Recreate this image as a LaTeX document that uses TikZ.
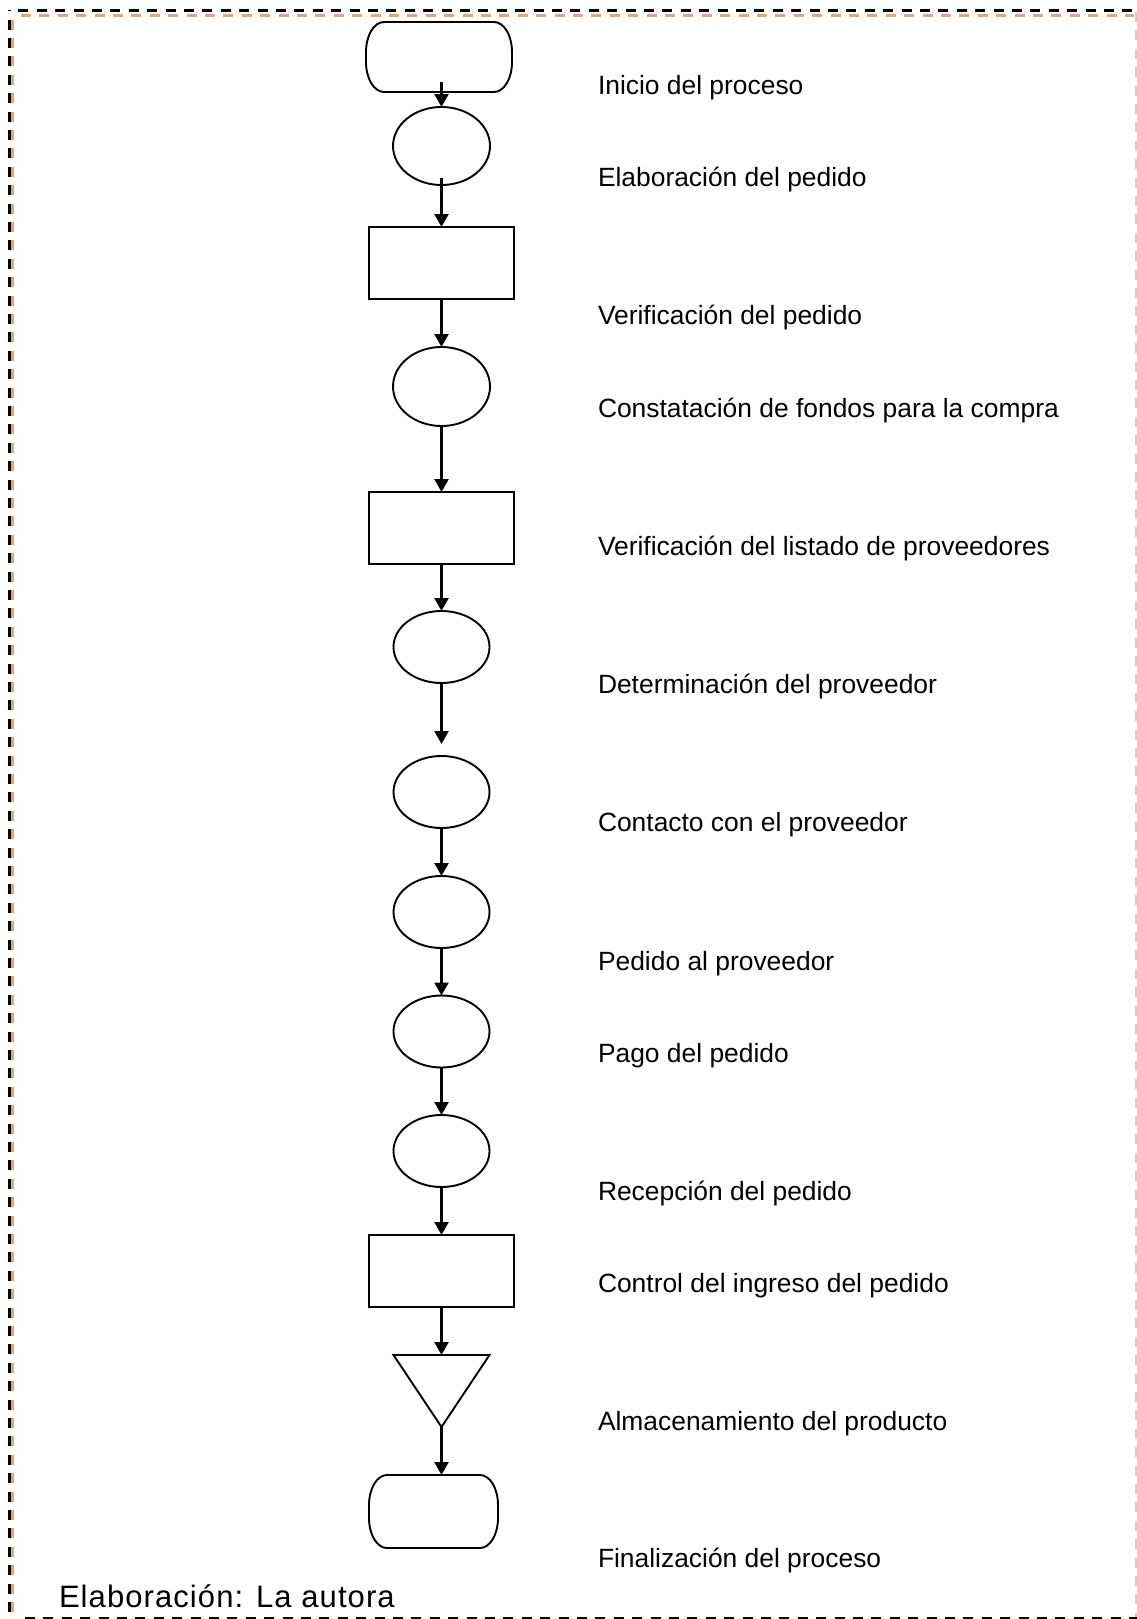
\documentclass[tikz,border=0pt]{standalone}
\usepackage{fontspec}
\setmainfont{Liberation Sans}
\usetikzlibrary{shapes.geometric,arrows.meta,calc}
\definecolor{tanline}{RGB}{214,170,136}
\definecolor{edgegrey}{RGB}{205,205,205}
\begin{document}
\begin{tikzpicture}[x=1pt,y=-1pt,
  every node/.style={inner sep=0pt,outer sep=0pt},
  shp/.style={draw=black,line width=1.9pt,fill=white},
  boxshape/.style={shp,rectangle,minimum width=145pt,minimum height=72pt},
  ovalshape/.style={shp,ellipse,minimum width=96pt,minimum height=72pt},
  termbox/.style={rectangle,minimum width=146pt,minimum height=70pt},
  arr/.style={draw=black,line width=2.2pt,-{Triangle[length=13pt,width=14pt]}},
  lbl/.style={anchor=base west,font=\fontsize{26.4}{30}\selectfont},
  blackdash/.style={draw=black,line width=2.6pt,dash pattern=on 10pt off 8.4pt},
  tandash/.style={draw=tanline,line width=2.6pt,dash pattern=on 10pt off 8.4pt}]
\useasboundingbox (0,0) rectangle (1137,1619);
% frame
\draw[tandash] (12.3,1612) -- (12.3,15.7);
\draw[tandash] (21,15.7) -- (1134,15.7);
\draw[blackdash] (9.3,1612) -- (9.3,10);
\draw[blackdash] (18.3,10.7) -- (1134,10.7);
\draw[blackdash] (25,1617.8) -- (1137,1617.8);
\draw[draw=edgegrey,line width=1.6pt,dash pattern=on 10pt off 8.4pt] (1136.2,12) -- (1136.2,1617);
% terminators
\node[termbox] (t1) at (439,57) {};
\node[termbox,minimum width=129pt,minimum height=73pt] (t2) at (433.5,1511.5) {};
\foreach \T in {t1,t2}{
  \draw[shp] ([xshift=18pt]\T.north west) -- ([xshift=-18pt]\T.north east)
    .. controls +(10pt,0pt) and +(0pt,16.5pt) .. ([yshift=-30pt]\T.north east)
    -- ([yshift=30pt]\T.south east)
    .. controls +(0pt,-16.5pt) and +(10pt,0pt) .. ([xshift=-18pt]\T.south east)
    -- ([xshift=18pt]\T.south west)
    .. controls +(-10pt,0pt) and +(0pt,-16.5pt) .. ([yshift=30pt]\T.south west)
    -- ([yshift=-30pt]\T.north west)
    .. controls +(0pt,16.5pt) and +(-10pt,0pt) .. ([xshift=18pt]\T.north west) -- cycle;
}
% shapes
\node[ovalshape,minimum width=97pt,minimum height=78pt] (e1) at (441.5,146) {};
\node[boxshape] (r1) at (441.5,263) {};
\node[ovalshape,minimum width=97pt,minimum height=79pt] (e2) at (441.5,386.5) {};
\node[boxshape] (r2) at (441.5,528) {};
\node[ovalshape] (e3) at (441.5,647) {};
\node[ovalshape] (e4) at (441.5,792) {};
\node[ovalshape] (e5) at (441.5,912) {};
\node[ovalshape] (e6) at (441.5,1031.5) {};
\node[ovalshape] (e7) at (441.5,1151) {};
\node[boxshape] (r3) at (441.5,1271) {};
\node[rectangle,minimum width=96pt,minimum height=72pt] (tri) at (441.5,1391) {};
\draw[shp,line join=miter] (tri.north west) -- (tri.north east) -- (tri.south) -- cycle;
% connectors
\draw[arr] ($(t1.south -| e1.north)+(0,-10)$) -- (e1.north);
\draw[arr] ($(e1.south)+(0,-7)$) -- (r1.north);
\draw[arr] (r1.south) -- (e2.north);
\draw[arr] (e2.south) -- (r2.north);
\draw[arr] (r2.south) -- (e3.north);
\draw[arr] (e3.south) -- ($(e4.north)+(0,-12)$);
\draw[arr] (e4.south) -- (e5.north);
\draw[arr] (e5.south) -- (e6.north);
\draw[arr] (e6.south) -- (e7.north);
\draw[arr] (e7.south) -- (r3.north);
\draw[arr] (r3.south) -- (tri.north);
\draw[arr] (tri.south) -- (tri.south |- t2.north);
% labels
\node[lbl] (l1) at (598,94) {Inicio del proceso};
\node[lbl] (l2) at (598,186) {Elaboración del pedido};
\node[lbl] (l3) at (598,324.5) {Verificación del pedido};
\node[lbl] (l4) at (598,417.5) {Constatación de fondos para la compra};
\node[lbl] (l5) at (598,555) {Verificación del listado de proveedores};
\node[lbl] (l6) at (598,693) {Determinación del proveedor};
\node[lbl] (l7) at (598,831.5) {Contacto con el proveedor};
\node[lbl] (l8) at (598,970) {Pedido al proveedor};
\node[lbl] (l9) at (598,1062) {Pago del pedido};
\node[lbl] (l10) at (598,1200.5) {Recepción del pedido};
\node[lbl] (l11) at (598,1292) {Control del ingreso del pedido};
\node[lbl] (l12) at (598,1430.5) {Almacenamiento del producto};
\node[lbl] (l13) at (598,1567.5) {Finalización del proceso};
\node[anchor=base west,font={\fontsize{31}{36}\selectfont\addfontfeature{LetterSpace=3.5}}] (src) at (59,1607.5) {Elaboración: La autora};
\end{tikzpicture}
\end{document}
